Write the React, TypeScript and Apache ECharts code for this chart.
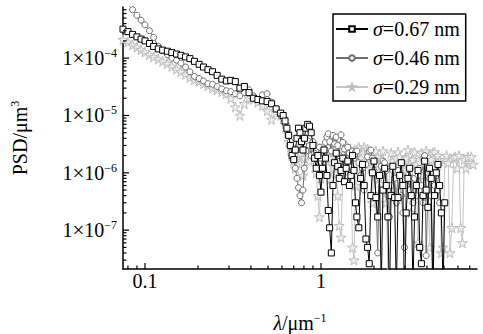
import React, { useEffect, useRef } from "react";
import * as echarts from "echarts";

// Spatial frequency (μm⁻¹)
const freq = [
  0.075, 0.08, 0.085, 0.09, 0.095, 0.1, 0.106, 0.112, 0.119, 0.126,
  0.134, 0.142, 0.151, 0.16, 0.17, 0.18, 0.191, 0.203, 0.215, 0.228,
  0.242, 0.257, 0.273, 0.29, 0.307, 0.326, 0.346, 0.367, 0.39, 0.413,
  0.438, 0.465, 0.494, 0.524, 0.556, 0.59,
  0.61, 0.625, 0.64, 0.655, 0.67, 0.685, 0.7, 0.715, 0.73, 0.745,
  0.76, 0.775, 0.79, 0.805, 0.82, 0.84, 0.86, 0.88, 0.9, 0.92,
  0.94, 0.96, 0.98, 1.0, 1.02, 1.04, 1.06, 1.08, 1.1, 1.12,
  1.145, 1.17, 1.195, 1.22, 1.245, 1.27, 1.3, 1.33, 1.36, 1.39,
  1.42, 1.45, 1.48, 1.51, 1.54, 1.57, 1.6, 1.64, 1.68, 1.72,
  1.76, 1.8, 1.84, 1.88, 1.92, 1.96, 2.0, 2.05, 2.1, 2.15,
  2.2, 2.25, 2.3, 2.35, 2.4, 2.45, 2.5, 2.56, 2.62, 2.68,
  2.74, 2.8, 2.86, 2.92, 2.98, 3.05, 3.12, 3.19, 3.26, 3.33,
  3.4, 3.48, 3.56, 3.64, 3.72, 3.8, 3.88, 3.96, 4.05, 4.14,
  4.23, 4.32, 4.42, 4.52, 4.62, 4.72, 4.83, 4.94, 5.05, 5.17,
  5.29, 5.41, 5.54, 5.67, 5.8, 5.94, 6.08, 6.22, 6.37, 6.52,
  6.67, 6.83, 6.99, 7.15, 7.32, 7.5,
];

// PSD (μm³), σ = 0.67 nm
const psd067 = [
  3.2e-4, 2.9e-4, 2.6e-4, 2.35e-4, 2.15e-4, 2.0e-4, 1.8e-4, 1.6e-4, 1.45e-4, 1.38e-4,
  1.32e-4, 1.25e-4, 1.18e-4, 1.12e-4, 1.05e-4, 9.8e-5, 8.8e-5, 7.8e-5, 7.0e-5, 6.3e-5,
  5.8e-5, 5.0e-5, 4.3e-5, 4.0e-5, 4.1e-5, 3.9e-5, 3.0e-5, 3.2e-5, 2.5e-5, 2.0e-5,
  1.9e-5, 1.8e-5, 1.75e-5, 1.6e-5, 1.3e-5, 1.1e-5,
  1.0e-5, 8e-6, 6e-6, 4.5e-6, 3e-6, 2e-6, 1.7e-6, 2.5e-6, 4e-6, 6e-6,
  5e-6, 3.5e-6, 2.5e-6, 4e-6, 6e-6, 7e-6, 6.5e-6, 5e-6, 3e-6, 1.8e-6,
  1.2e-6, 2e-6, 9e-7, 4.6e-7, 1.2e-6, 2.5e-6, 1.8e-6, 9e-7, 2.2e-7, 1.1e-7,
  4e-8, 6e-7, 1.5e-6, 2.2e-6, 1.3e-6, 8e-7, 1.1e-6, 1.8e-6, 7e-7, 1.2e-6,
  1.6e-6, 6e-7, 9e-7, 2.0e-6, 1.1e-6, 3e-7, 1.7e-7, 1.1e-7, 8e-7, 1.4e-6,
  6e-7, 7e-8, 5e-8, 2.6e-8, 4e-7, 1.0e-6, 1.6e-6, 3.7e-7, 1.7e-7, 9e-7,
  1e-8, 5e-7, 1.2e-6, 6e-7, 1.7e-7, 5e-9, 4e-7, 1.3e-6, 3.7e-7, 8e-9,
  3.7e-7, 9e-7, 1.5e-6, 6e-7, 5e-9, 2e-7, 8e-7, 1.2e-6, 4e-7, 1e-8,
  1.7e-7, 6e-7, 1.1e-6, 5e-8, 2.6e-8, 4e-7, 1.6e-6, 5e-7, 2.5e-7, 1.2e-6,
  8e-7, 5e-9, 4e-7, 1.0e-6, 1.4e-6, 6e-7, 2e-7, 1e-8, 3e-7, null,
  null, null, null, null, null, null, null, null, null, null,
  null, null, null, null, null, null,
];

// PSD (μm³), σ = 0.46 nm
const psd046 = [
  1.0e-3, 8.5e-4, 7.0e-4, 5.6e-4, 4.6e-4, 3.8e-4, 3.0e-4, 2.3e-4, 1.6e-4, 1.35e-4,
  1.15e-4, 1.0e-4, 9.2e-5, 8.2e-5, 7.0e-5, 5.8e-5, 4.8e-5, 4.4e-5, 4.0e-5, 3.6e-5,
  3.5e-5, 3.2e-5, 2.9e-5, 2.7e-5, 2.6e-5, 2.4e-5, 2.2e-5, 2.5e-5, 2.8e-5, 2.2e-5,
  1.9e-5, 2.3e-5, 2.4e-5, 1.7e-5, 1.3e-5, 1.0e-5,
  9e-6, 7e-6, 5.5e-6, 4.5e-6, 3.5e-6, 2.5e-6, 1.8e-6, 1.2e-6, 8e-7, 5.5e-7,
  4e-7, 3e-7, 5e-7, 1.2e-6, 2.4e-6, 3.6e-6, 3e-6, 2e-6, 3.5e-6, 2.2e-6,
  1.4e-6, 1.9e-6, 2.8e-6, 1.8e-6, 1.2e-6, 2.2e-6, 3.4e-6, 4.2e-6, 4.8e-6, 3.5e-6,
  2.4e-6, 4.5e-6, 3.2e-6, 4.2e-6, 3e-6, 2e-6, 4.6e-6, 3.4e-6, 2.6e-6, 1.6e-6,
  2.8e-6, 2.2e-6, 1.3e-6, 2.4e-6, 1.8e-6, 2.3e-6, 2.4e-6, 1.5e-6, 9e-7, 1.2e-6,
  5e-7, 1.4e-6, 1.9e-6, 2.4e-6, 2.5e-6, 1.8e-6, 1.1e-6, 4e-7, 4e-8, 9e-7,
  1.3e-6, 1.6e-6, 1.5e-6, 1.1e-6, 4e-7, 1.7e-7, 6e-7, 1.1e-6, 8e-7, 3e-7,
  1.1e-6, 9e-7, 4e-7, 2e-7, 5e-8, 6e-7, 9e-7, 5e-7, 8e-7, 3e-7,
  8e-7, 4e-7, 9e-7, 1.2e-6, 6e-7, 3e-7, 2e-6, 3.6e-8, 5e-7, 8e-7,
  4e-7, 1e-8, 6e-7, 9e-7, 5e-7, 3e-7, null, null, null, null,
  null, null, null, null, null, null, null, null, null, null,
  null, null, null, null, null, null,
];

// PSD (μm³), σ = 0.29 nm
const psd029 = [
  2.1e-4, 1.9e-4, 1.7e-4, 1.55e-4, 1.4e-4, 1.28e-4, 1.15e-4, 1.05e-4, 9.6e-5, 8.8e-5,
  8.0e-5, 7.2e-5, 6.4e-5, 5.8e-5, 5.2e-5, 4.6e-5, 4.2e-5, 3.9e-5, 3.6e-5, 3.3e-5,
  3.0e-5, 2.8e-5, 2.6e-5, 2.4e-5, 2.0e-5, 1.4e-5, 1.0e-5, 1.6e-5, 2.0e-5, 1.9e-5,
  1.7e-5, 1.5e-5, 1.2e-5, 8.5e-6, 1.1e-5, 1.0e-5,
  9e-6, 7e-6, 5e-6, 3.5e-6, 2.8e-6, 2e-6, 1.6e-6, 1.2e-6, 2e-6, 2.8e-6,
  2.2e-6, 1.5e-6, 9e-7, 1.8e-6, 3e-6, 2.4e-6, 1.6e-6, 2.6e-6, 3.2e-6, 2e-6,
  1e-6, 4e-7, 1.7e-7, 8e-7, 2e-6, 3e-6, 2.4e-6, 1.6e-6, 2.8e-6, 1.8e-6,
  8e-7, 2.5e-6, 1.9e-6, 1e-6, 4e-7, 1.2e-7, 7.5e-8, 9e-7, 2.2e-6, 3e-6,
  1.8e-6, 2.6e-6, 1.2e-6, 5e-8, 3e-8, 6e-7, 2e-6, 2.8e-6, 1.8e-6, 2.4e-6,
  2.8e-6, 1.6e-6, 2.6e-6, 2.2e-6, 1.2e-6, 3e-7, 1.5e-6, 2.4e-6, 1.9e-6, 8e-7,
  1.7e-6, 2.4e-6, 1.4e-6, 3e-7, 2e-8, 1.2e-6, 2.2e-6, 1.6e-6, 5e-7, 1.8e-6,
  2.3e-6, 1.9e-6, 1.2e-6, 1.6e-6, 8e-7, 1.8e-6, 2.5e-6, 1.4e-6, 2e-7, 1.7e-6,
  2.3e-6, 1.4e-6, 6e-8, 1.5e-6, 2.2e-6, 9e-7, 2e-6, 2.4e-6, 1.2e-6, 5e-8,
  1.7e-6, 2.2e-6, 2.3e-6, 1.1e-6, 2e-6, 1.6e-6, 4e-8, 5e-8, 1.7e-6, 2e-6,
  1.5e-6, 4e-8, 1.1e-7, 1.8e-6, 1.9e-6, 1.2e-6, 2e-6, 1.1e-7, 6e-8, 1.7e-6,
  1.2e-6, 1.9e-6, 1.5e-6, 1.9e-6, 1.4e-6, null,
];

const seriesNames = ["σ=0.67 nm", "σ=0.46 nm", "σ=0.29 nm"];

// Axis extents and tick positions
const xMin = 0.075;
const xMax = 7.7;
const yMin = 2.1e-8;
const yMax = 7.8e-4;
const xMajorTicks = [0.1, 1];
const xMinorTicks = [0.08, 0.09, 0.2, 0.3, 0.4, 0.5, 0.6, 0.7, 0.8, 0.9, 2, 3, 4, 5, 6, 7];
const yMajorTicks = [1e-7, 1e-6, 1e-5, 1e-4];
const yMinorTicks = [
  3e-8, 4e-8, 5e-8, 6e-8, 7e-8, 8e-8, 9e-8,
  2e-7, 3e-7, 4e-7, 5e-7, 6e-7, 7e-7, 8e-7, 9e-7,
  2e-6, 3e-6, 4e-6, 5e-6, 6e-6, 7e-6, 8e-6, 9e-6,
  2e-5, 3e-5, 4e-5, 5e-5, 6e-5, 7e-5, 8e-5, 9e-5,
  2e-4, 3e-4, 4e-4, 5e-4, 6e-4, 7e-4,
];

const FONT = "Liberation Serif";
const STAR = "path://M50,0 L61,35 L98,35 L68,57 L79,91 L50,70 L21,91 L32,57 L2,35 L39,35 Z";

const isPow10 = (v: number) => {
  const l = Math.log10(v);
  return Math.abs(l - Math.round(l)) < 1e-6;
};

const pairs = (ys: (number | null)[]) => freq.map((f, i) => [f, ys[i]]);

const tickSeries = (axis: "x" | "y", values: number[], len: number) => ({
  type: "custom",
  silent: true,
  clip: false,
  z: 10,
  data: values.map((v) => (axis === "x" ? [v, yMin] : [xMin, v])),
  renderItem: (_params: any, api: any) => {
    const p = api.coord([api.value(0), api.value(1)]);
    return axis === "x"
      ? { type: "line", shape: { x1: p[0], y1: p[1], x2: p[0], y2: p[1] - len }, style: { stroke: "#000", lineWidth: 1.2 } }
      : { type: "line", shape: { x1: p[0], y1: p[1], x2: p[0] + len, y2: p[1] }, style: { stroke: "#000", lineWidth: 1.2 } };
  },
});

export default function App() {
  const ref = useRef<HTMLDivElement>(null);

  useEffect(() => {
    if (!ref.current) return;
    const chart = echarts.init(ref.current, undefined, { renderer: "svg" });

    const option: any = {
      animation: false,
      backgroundColor: "#fff",
      textStyle: { fontFamily: FONT },
      grid: { left: 123, right: 6, top: 7, bottom: 65, containLabel: false, outerBoundsMode: "none" },
      legend: {
        data: seriesNames,
        orient: "vertical",
        left: 333,
        top: 14,
        itemWidth: 32,
        itemHeight: 7,
        itemGap: 9,
        padding: [5, 6, 4, 2],
        borderColor: "#000",
        borderWidth: 1.5,
        backgroundColor: "#fff",
        textStyle: {
          fontFamily: FONT,
          fontSize: 20,
          color: "#000",
          rich: { i: { fontFamily: FONT, fontSize: 20, fontStyle: "italic", color: "#000" } },
        },
        formatter: (name: string) => name.replace("σ", "{i|σ}"),
      },
      xAxis: {
        type: "log",
        logBase: 10,
        min: xMin,
        max: xMax,
        name: "{l|λ}/μm{s|−1}",
        nameLocation: "middle",
        nameGap: 43,
        nameTextStyle: {
          fontFamily: FONT,
          fontSize: 20,
          color: "#000",
          rich: {
            l: { fontFamily: FONT, fontSize: 20, fontStyle: "italic", color: "#000" },
            s: { fontFamily: FONT, fontSize: 12, color: "#000", verticalAlign: "bottom", padding: [0, 0, 10, 0] },
          },
        },
        axisLine: { show: true, lineStyle: { color: "#000", width: 1.5 } },
        axisTick: { show: false },
        minorTick: { show: false },
        splitLine: { show: false },
        axisLabel: {
          fontFamily: FONT,
          fontSize: 20,
          color: "#000",
          margin: 2,
          showMinLabel: false,
          showMaxLabel: false,
          formatter: (v: number) => (isPow10(v) ? String(Math.round(v * 10) / 10) : ""),
        },
      },
      yAxis: {
        type: "log",
        logBase: 10,
        min: yMin,
        max: yMax,
        name: "PSD/μm{s|3}",
        nameLocation: "middle",
        nameGap: 92,
        nameRotate: 90,
        nameTextStyle: {
          fontFamily: FONT,
          fontSize: 20,
          color: "#000",
          rich: {
            s: { fontFamily: FONT, fontSize: 12, color: "#000", verticalAlign: "bottom", padding: [0, 0, 10, 0] },
          },
        },
        axisLine: { show: true, lineStyle: { color: "#000", width: 1.5 } },
        axisTick: { show: false },
        minorTick: { show: false },
        splitLine: { show: false },
        axisLabel: {
          fontFamily: FONT,
          color: "#000",
          margin: 6,
          showMinLabel: false,
          showMaxLabel: false,
          formatter: (v: number) =>
            isPow10(v) ? `{n|1}{x|×}{n|10}{s|−${Math.abs(Math.round(Math.log10(v)))}}` : "",
          rich: {
            n: { fontFamily: FONT, fontSize: 20, color: "#000" },
            x: { fontFamily: FONT, fontSize: 21, color: "#000" },
            s: { fontFamily: FONT, fontSize: 12, color: "#000", verticalAlign: "bottom", padding: [0, 0, 10, 0] },
          },
        },
      },
      series: [
        {
          name: seriesNames[2],
          type: "line",
          data: pairs(psd029),
          symbol: STAR,
          symbolSize: 10,
          lineStyle: { color: "#c4c4c4", width: 1 },
          itemStyle: { color: "#eeeeee", borderColor: "#bdbdbd", borderWidth: 1 },
          color: "#c4c4c4",
          z: 2,
        },
        {
          name: seriesNames[1],
          type: "line",
          data: pairs(psd046),
          symbol: "circle",
          symbolSize: 6,
          lineStyle: { color: "#6e6e6e", width: 1 },
          itemStyle: { color: "#fff", borderColor: "#6e6e6e", borderWidth: 1 },
          color: "#6e6e6e",
          z: 3,
        },
        {
          name: seriesNames[0],
          type: "line",
          data: pairs(psd067),
          symbol: "rect",
          symbolSize: 6,
          lineStyle: { color: "#000", width: 1 },
          itemStyle: { color: "#fff", borderColor: "#000", borderWidth: 1 },
          color: "#000",
          z: 4,
        },
        tickSeries("x", xMajorTicks, 6),
        tickSeries("x", xMinorTicks, 3.5),
        tickSeries("y", yMajorTicks, 6),
        tickSeries("y", yMinorTicks, 3.5),
      ],
    };

    chart.setOption(option);
    return () => chart.dispose();
  }, []);

  return (
    <div
      ref={ref}
      style={{ position: "fixed", left: 0, top: 0, width: 483, height: 334, background: "#fff" }}
    />
  );
}
